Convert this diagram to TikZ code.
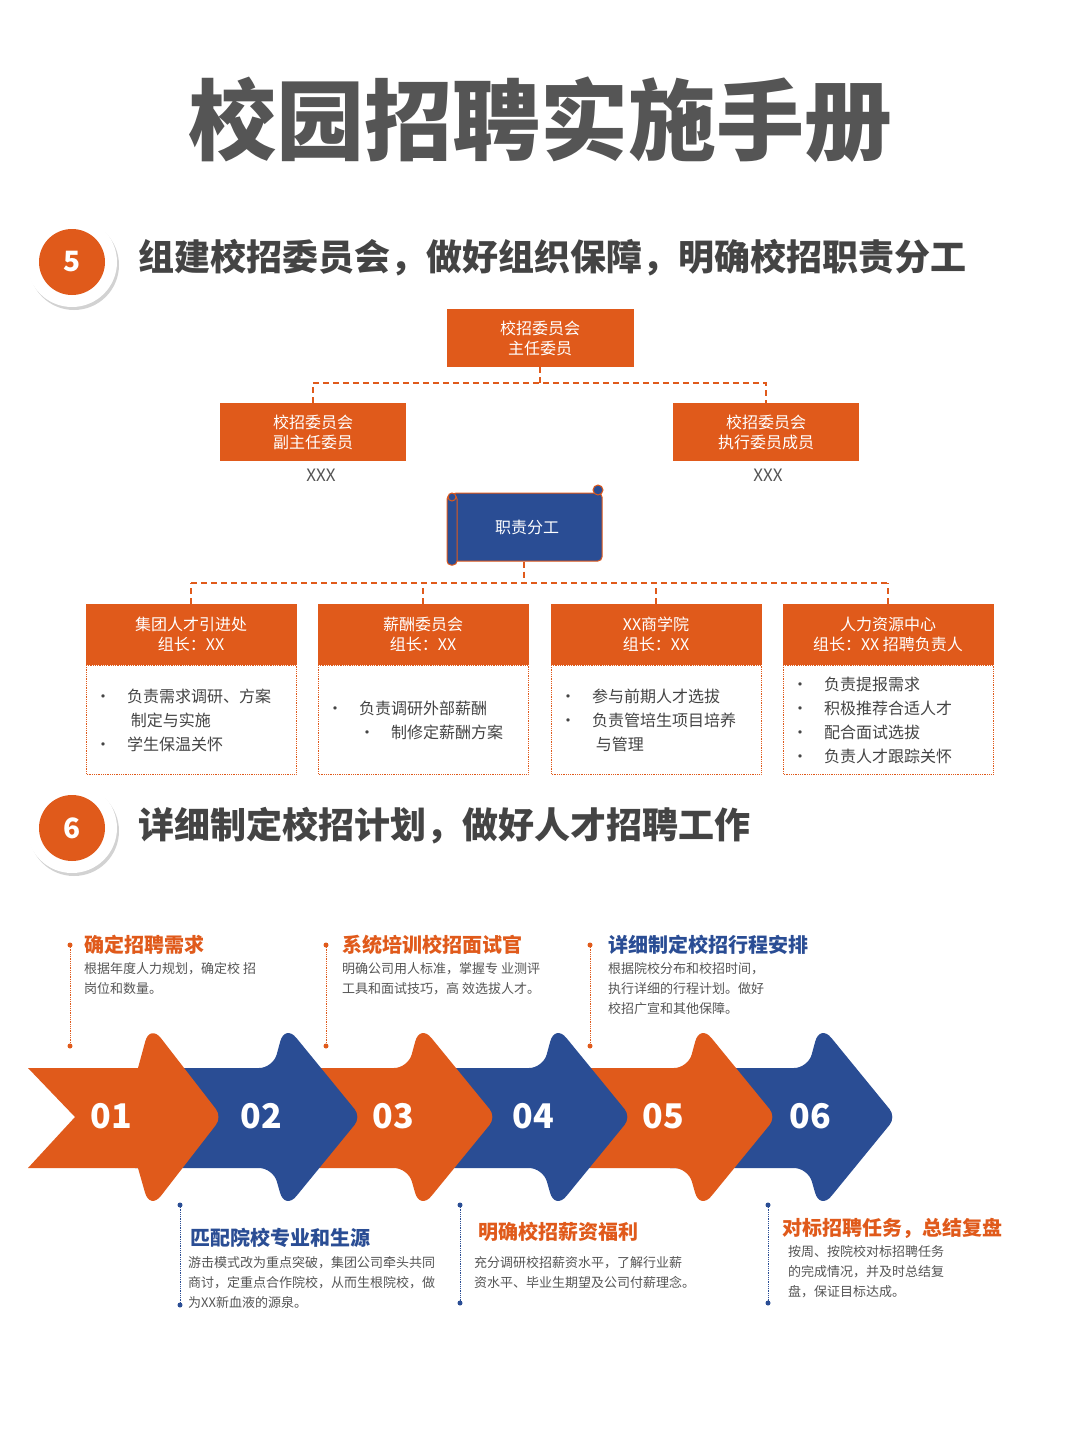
\documentclass[tikz,border=0pt]{standalone}
\usepackage{fontspec}
\setmainfont{Noto Sans CJK SC}
\usetikzlibrary{shadows}
\definecolor{org}{HTML}{E05A1B}
\definecolor{blu}{HTML}{2A4D94}
\definecolor{dgr}{HTML}{555555}
\definecolor{tgr}{HTML}{444444}
\tikzset{
 hbox/.style={fill=org,text=white,font=\fontsize{16}{20}\selectfont,align=center,inner sep=0},
 con/.style={org,dashed,line width=2.2pt,dash pattern=on 6pt off 4pt},
 body/.style={anchor=north west,text=tgr,font=\fontsize{16}{24}\selectfont,align=left,inner sep=0},
 ttl/.style={anchor=west,font=\fontsize{20}{24}\selectfont\bfseries,inner sep=0},
 sm/.style={anchor=north west,text=dgr,font=\fontsize{13}{20}\selectfont,align=left,inner sep=0},
 vl/.style={org,densely dotted,line width=0.8pt},
 vlb/.style={blu,densely dotted,line width=0.8pt},
}
\begin{document}
\begin{tikzpicture}[x=1pt,y=-1pt]
\useasboundingbox (0,0) rectangle (1080,1440);
\fill[white] (0,0) rectangle (1080,1440);
\node[text=dgr,font=\fontsize{88}{96}\selectfont\bfseries] (title) at (540,120) {校园招聘实施手册};
% section markers
\foreach \n/\y in {5/262,6/828}{
 \fill[white,drop shadow={opacity=0.35,shadow xshift=2pt,shadow yshift=-3pt}] (72,\y) circle (45);
 \fill[org] (72,\y) circle (33);
 \node[text=white,font=\fontsize{28}{30}\selectfont\bfseries] (c\n) at (72,\y) {\n};
}
\node[anchor=west,text=tgr,font=\fontsize{36}{40}\selectfont\bfseries,inner sep=0] (h5) at (138,258) {组建校招委员会，做好组织保障，明确校招职责分工};
\node[anchor=west,text=tgr,font=\fontsize{36}{40}\selectfont\bfseries,inner sep=0] (h6) at (138,826) {详细制定校招计划，做好人才招聘工作};
% org chart
\node[hbox,minimum width=187,minimum height=58] (top) at (540,338) {校招委员会\\主任委员};
\node[hbox,minimum width=186,minimum height=58] (l) at (313,432) {校招委员会\\副主任委员};
\node[hbox,minimum width=186,minimum height=58] (r) at (766,432) {校招委员会\\执行委员成员};
\node[text=dgr,font=\fontsize{17}{20}\selectfont] (lx) at (321,475) {XXX};
\node[text=dgr,font=\fontsize{17}{20}\selectfont] (rx) at (768,475) {XXX};
\draw[con] (top.south) -- (540,383) coordinate (j1);
\draw[con] (l.north) |- (j1) -| (r.north);
% scroll
\node[fill=blu,draw=org,line width=1pt,rounded corners=4pt,minimum width=150,minimum height=68,text=white,font=\fontsize{16}{20}\selectfont] (zz) at (527,527) {职责分工};
\fill[blu,draw=org,line width=1pt,rounded corners=4pt] (447,495) rectangle (457,565);
\draw[org,line width=1pt,fill=blu] (452,497) circle (4);
\draw[org,line width=1pt,fill=blu] (598,490) circle (5);
\coordinate (j2) at (524,583);
\draw[con] (zz.south -| j2) -- (j2);
\foreach \i/\cx/\h/\b in {
 1/191/{集团人才引进处\\组长：XX}/{\textbullet\quad 负责需求调研、方案\\\phantom{\textbullet\quad} 制定与实施\\\textbullet\quad 学生保温关怀},
 2/423/{薪酬委员会\\组长：XX}/{\textbullet\quad 负责调研外部薪酬\\\phantom{\textbullet}\quad\textbullet\quad 制修定薪酬方案},
 3/656/{XX商学院\\组长：XX}/{\textbullet\quad 参与前期人才选拔\\\textbullet\quad 负责管培生项目培养\\\phantom{\textbullet\quad} 与管理},
 4/888/{人力资源中心\\组长：XX 招聘负责人}/{\textbullet\quad 负责提报需求\\\textbullet\quad 积极推荐合适人才\\\textbullet\quad 配合面试选拔\\\textbullet\quad 负责人才跟踪关怀}}{
 \draw[org,densely dotted,line width=0.8pt] (\cx-105,665) rectangle (\cx+105,774);
 \node[hbox,minimum width=211,minimum height=61] (d\i) at (\cx,634.5) {\h};
 \node[body,anchor=west,font=\fontsize{16}{24}\selectfont] (b\i) at (\cx-96,720) {\b};
 \draw[con] (d\i.north) -- (d\i.north |- j2);
}
\draw[con] (d1.north |- j2) -- (d4.north |- j2);
% chevrons
\foreach \i/\bx/\col in {6/820/blu,5/700/org,4/555/blu,3/420/org,2/285/blu}{
 \fill[\col,rounded corners=14pt] (\bx-150,1068) -- (\bx-12,1068) [rounded corners=18pt]-- (\bx,1024) [rounded corners=10pt]-- (\bx+76,1117) [rounded corners=18pt]-- (\bx,1210) [rounded corners=14pt]-- (\bx-12,1168) [sharp corners]-- (\bx-150,1168) -- cycle;
}
\fill[org] (28,1068) -- (138,1068) [rounded corners=18pt]-- (150,1024) [rounded corners=10pt]-- (222,1117) [rounded corners=18pt]-- (150,1210) [sharp corners]-- (138,1168) -- (28,1168) -- (75,1117) -- cycle;
\foreach \t/\x in {01/111,02/261,03/393,04/533,05/663,06/810}{
 \node[text=white,font=\fontsize{34}{36}\selectfont\bfseries] (n\t) at (\x,1116) {\t};
}
% top items
\draw[vl] (70,945) -- (70,1046); \fill[org] (70,945) circle (2.5); \fill[org] (70,1046) circle (2.5);
\node[ttl,text=org] (t1) at (84,945) {确定招聘需求};
\node[sm] (s1) at (84,962) {根据年度人力规划，确定校 招\\岗位和数量。};
\draw[vl] (326,945) -- (326,1046); \fill[org] (326,945) circle (2.5); \fill[org] (326,1046) circle (2.5);
\node[ttl,text=org] (t3) at (342,945) {系统培训校招面试官};
\node[sm] (s3) at (342,962) {明确公司用人标准，掌握专 业测评\\工具和面试技巧，高 效选拔人才。};
\draw[vl] (590,945) -- (590,1046); \fill[org] (590,945) circle (2.5); \fill[org] (590,1046) circle (2.5);
\node[ttl,text=blu] (t5) at (608,945) {详细制定校招行程安排};
\node[sm] (s5) at (608,962) {根据院校分布和校招时间，\\执行详细的行程计划。做好\\校招广宣和其他保障。};
% bottom items
\draw[vlb] (180,1205) -- (180,1305); \fill[blu] (180,1205) circle (2.5); \fill[blu] (180,1305) circle (2.5);
\node[ttl,text=blu] (t2) at (190,1238) {匹配院校专业和生源};
\node[sm] (s2) at (188,1256) {游击模式改为重点突破，集团公司牵头共同\\商讨，定重点合作院校，从而生根院校，做\\为XX新血液的源泉。};
\draw[vlb] (460,1205) -- (460,1303); \fill[blu] (460,1205) circle (2.5); \fill[blu] (460,1303) circle (2.5);
\node[ttl,text=org] (t4) at (478,1232) {明确校招薪资福利};
\node[sm] (s4) at (474,1256) {充分调研校招薪资水平，了解行业薪\\资水平、毕业生期望及公司付薪理念。};
\draw[vlb] (768,1205) -- (768,1303); \fill[blu] (768,1205) circle (2.5); \fill[blu] (768,1303) circle (2.5);
\node[ttl,text=org] (t6) at (782,1228) {对标招聘任务，总结复盘};
\node[sm] (s6) at (788,1245) {按周、按院校对标招聘任务\\的完成情况，并及时总结复\\盘，保证目标达成。};
\end{tikzpicture}
\end{document}
